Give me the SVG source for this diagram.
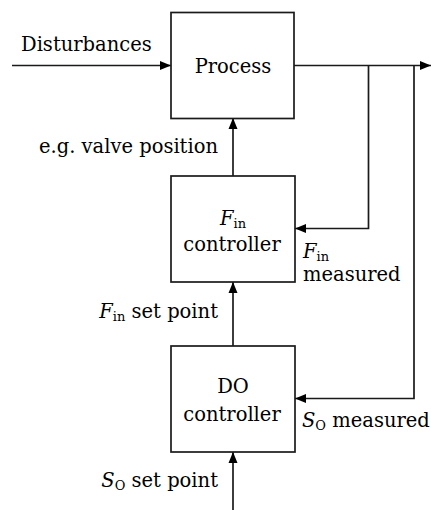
<svg xmlns="http://www.w3.org/2000/svg" width="431" height="510" viewBox="0 0 431 510">
  <defs>
    <marker id="arrow" markerUnits="userSpaceOnUse" markerWidth="12" markerHeight="10" refX="11" refY="5" orient="auto">
      <path d="M0,0.5 L11,5 L0,9.5 Z" fill="#000"/>
    </marker>
    <style>
      .box { fill: #fff; stroke: #1a1a1a; stroke-width: 1.7; }
      .wire { fill: none; stroke: #1a1a1a; stroke-width: 1.7; }
      text { font-family: "DejaVu Serif", "Liberation Serif", serif; font-size: 19.5px; fill: #000; }
      .it { font-style: italic; }
      .sub { font-size: 13px; }
      .mid { text-anchor: middle; }
      .end { text-anchor: end; }
    </style>
  </defs>
  <rect width="431" height="510" fill="#fff"/>

  <!-- signal lines -->
  <g id="connectors">
    <line class="wire" x1="12" y1="65.5" x2="171" y2="65.5" marker-end="url(#arrow)"/>
    <line class="wire" x1="294" y1="65.5" x2="431" y2="65.5" marker-end="url(#arrow)"/>
    <line class="wire" x1="233" y1="176" x2="233" y2="118" marker-end="url(#arrow)"/>
    <polyline class="wire" points="368.5,65.5 368.5,228.5 295,228.5" marker-end="url(#arrow)"/>
    <line class="wire" x1="233" y1="346" x2="233" y2="282" marker-end="url(#arrow)"/>
    <polyline class="wire" points="414,65.5 414,398.5 295,398.5" marker-end="url(#arrow)"/>
    <line class="wire" x1="233" y1="510" x2="233" y2="452" marker-end="url(#arrow)"/>
  </g>

  <g id="process">
    <rect class="box" x="171" y="12.5" width="123" height="106"/>
    <text class="mid" x="233" y="73">Process</text>
  </g>

  <g id="fin-controller">
    <rect class="box" x="171" y="176" width="124" height="106"/>
    <text class="mid" x="233" y="225"><tspan class="it">F</tspan><tspan class="sub" dy="3">in</tspan></text>
    <text class="mid" x="232" y="251">controller</text>
  </g>

  <g id="do-controller">
    <rect class="box" x="171" y="346" width="124" height="106"/>
    <text class="mid" x="233" y="393">DO</text>
    <text class="mid" x="232" y="421">controller</text>
  </g>

  <g id="labels">
    <text x="21" y="51">Disturbances</text>
    <text class="end" x="218" y="153">e.g. valve position</text>
    <text x="303" y="258"><tspan class="it">F</tspan><tspan class="sub" dy="3">in</tspan></text>
    <text x="303" y="281">measured</text>
    <text class="end" x="218" y="318"><tspan class="it">F</tspan><tspan class="sub" dy="3">in</tspan><tspan dy="-3"> set point</tspan></text>
    <text x="302" y="427"><tspan class="it">S</tspan><tspan class="sub" dy="3">O</tspan><tspan dy="-3"> measured</tspan></text>
    <text class="end" x="218" y="487"><tspan class="it">S</tspan><tspan class="sub" dy="3">O</tspan><tspan dy="-3"> set point</tspan></text>
  </g>
</svg>
